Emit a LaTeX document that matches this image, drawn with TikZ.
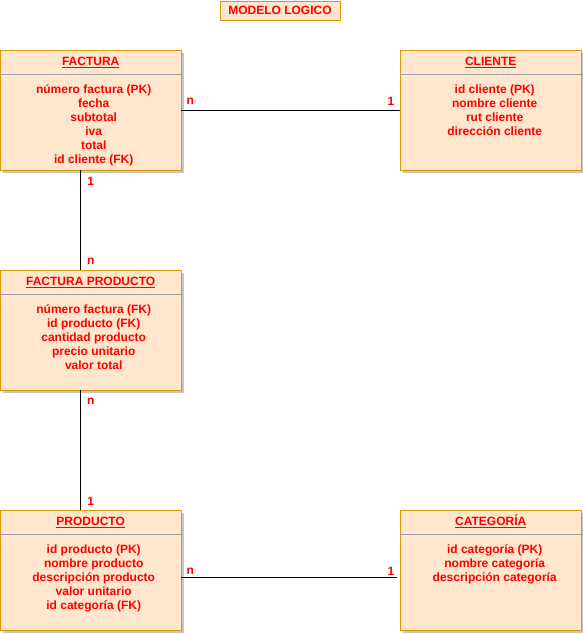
\documentclass[tikz,border=0pt]{standalone}
\usepackage{fontspec}
\setmainfont{Liberation Sans}
\usetikzlibrary{positioning,shadows}
\definecolor{boxfill}{HTML}{FFE6CC}
\definecolor{boxline}{HTML}{D79B00}
\definecolor{txtred}{HTML}{FF0000}
\definecolor{sepline}{HTML}{A0A0A8}
\tikzset{
  entity/.style={draw=boxline, fill=boxfill, minimum width=181pt, minimum height=120pt,
    inner sep=0pt, anchor=north west,
    drop shadow={shadow xshift=3pt, shadow yshift=-3pt, fill=gray, opacity=0.45}},
  head/.style={font=\fontsize{12}{14}\selectfont\bfseries, text=txtred, inner sep=0pt, anchor=base},
  attr/.style={head, align=center},
  card/.style={head},
  sep/.style={draw=sepline},
  titlebox/.style={draw=boxline, fill=boxfill, minimum width=120pt, minimum height=19.5pt,
    inner sep=0pt, font=\fontsize{12}{14}\selectfont\bfseries, text=txtred}
}
\begin{document}
\begin{tikzpicture}[x=1pt,y=-1pt]
    \useasboundingbox (0,0) rectangle (583,634);
    \node[titlebox] (titulo) at (280,10.5) {MODELO LOGICO};
    % entidades
    \node[entity] (factura) at (0,50) {};
    \node[entity] (cliente) at (400,50) {};
    \node[entity] (facprod) at (0,270) {};
    \node[entity] (producto) at (0,510) {};
    \node[entity] (categoria) at (400,510) {};
    \draw[sep] ([yshift=-24pt]factura.north west) -- ([yshift=-24pt]factura.north east);
    \draw[sep] ([yshift=-24pt]cliente.north west) -- ([yshift=-24pt]cliente.north east);
    \draw[sep] ([yshift=-24pt]facprod.north west) -- ([yshift=-24pt]facprod.north east);
    \draw[sep] ([yshift=-24pt]producto.north west) -- ([yshift=-24pt]producto.north east);
    \draw[sep] ([yshift=-24pt]categoria.north west) -- ([yshift=-24pt]categoria.north east);
    % encabezados
    \node[head] (facturah) at ([yshift=-15.5pt]factura.north) {\underline{FACTURA}};
    \node[head] (clienteh) at ([yshift=-15.5pt]cliente.north) {\underline{CLIENTE}};
    \node[head] (facprodh) at ([yshift=-15.5pt]facprod.north) {\underline{FACTURA PRODUCTO}};
    \node[head] (productoh) at ([yshift=-15.5pt]producto.north) {\underline{PRODUCTO}};
    \node[head] (categoriah) at ([yshift=-15.5pt]categoria.north) {\underline{CATEGORÍA}};
    % atributos (base = ultima linea)
    \node[attr] (facturaa) at ([xshift=3pt,yshift=-113.5pt]factura.north) {número factura (PK)\\fecha\\subtotal\\iva\\total\\id cliente (FK)};
    \node[attr] (clientea) at ([xshift=4pt,yshift=-85.5pt]cliente.north) {id cliente (PK)\\nombre cliente\\rut cliente\\dirección cliente};
    \node[attr] (facproda) at ([xshift=3pt,yshift=-99.5pt]facprod.north) {número factura (FK)\\id producto (FK)\\cantidad producto\\precio unitario\\valor total};
    \node[attr] (productoa) at ([xshift=3pt,yshift=-99.5pt]producto.north) {id producto (PK)\\nombre producto\\descripción producto\\valor unitario\\id categoría (FK)};
    \node[attr] (categoriaa) at ([xshift=4pt,yshift=-71.5pt]categoria.north) {id categoría (PK)\\nombre categoría\\descripción categoría};
    % relaciones
    \draw (factura.east) -- (cliente.west);
    \draw ([xshift=-10.5pt]factura.south) -- ([xshift=-10.5pt]facprod.north);
    \draw ([xshift=-10.5pt]facprod.south) -- ([xshift=-10.5pt]producto.north);
    \draw ([yshift=-7pt]producto.east) -- ([xshift=-3pt,yshift=-7pt]categoria.west);
    % cardinalidades
    \node[card] (c1) at ([xshift=9pt,yshift=5.5pt]factura.east) {n};
    \node[card] (c2) at ([xshift=-9pt,yshift=5pt]cliente.west) {1};
    \node[card] (c3) at ([yshift=-15pt]factura.south) {1};
    \node[card] (c4) at ([yshift=5.5pt]facprod.north) {n};
    \node[card] (c5) at ([yshift=-14.5pt]facprod.south) {n};
    \node[card] (c6) at ([yshift=5pt]producto.north) {1};
    \node[card] (c7) at ([xshift=9pt,yshift=-4.5pt]producto.east) {n};
    \node[card] (c8) at ([xshift=-9pt,yshift=-5pt]categoria.west) {1};
\end{tikzpicture}
\end{document}
